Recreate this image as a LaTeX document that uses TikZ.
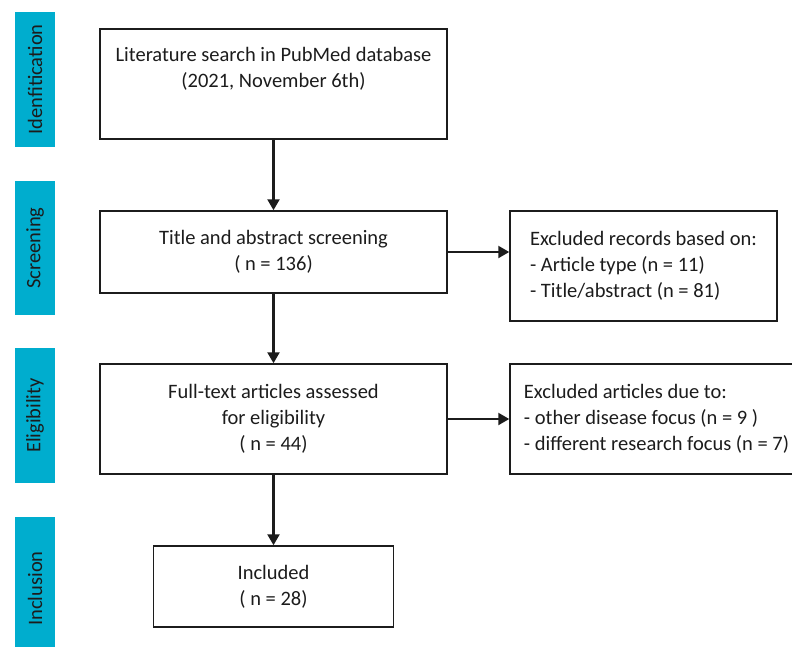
\documentclass[tikz,border=0pt]{standalone}
\usepackage{fontspec}
\setmainfont{Carlito}
\usetikzlibrary{arrows.meta}
\definecolor{tabblue}{RGB}{0,173,206}
\definecolor{ink}{RGB}{28,28,28}
\begin{document}
\begin{tikzpicture}[x=1pt,y=-1pt,
  every node/.style={font=\fontsize{20.5}{26}\selectfont, text=ink},
  box/.style={draw=ink, line width=1.5pt, align=center, inner sep=0pt},
  tab/.style={fill=tabblue, draw=none, inner sep=0pt, minimum height=40pt, rotate=90},
  flow/.style={draw=ink, line width=2.3pt, -{Triangle[length=11pt,width=12pt]}}]
\useasboundingbox (0,0) rectangle (792,646);
\clip (0,0) rectangle (792,646);

% stage tabs on the left
\node[tab, minimum width=135pt] (tid) at (35,79.5) {Idenfitication};
\node[tab, minimum width=134pt] (tsc) at (35,248) {Screening};
\node[tab, minimum width=135pt] (tel) at (35,415.5) {Eligibility};
\node[tab, minimum width=143pt] (tin) at (35,588.5) {Inclusion};

% main flow boxes
\node[box, minimum width=347pt, minimum height=110pt] (search) at (273.5,84)
  {Literature search in PubMed database\\(2021, November 6th)\\\strut};
\node[box, minimum width=347pt, minimum height=82pt] (screen) at (273.5,252)
  {Title and abstract screening\\( n = 136)};
\node[box, minimum width=347pt, minimum height=110pt] (full) at (273.5,419)
  {Full-text articles assessed\\for eligibility\\( n = 44)};
\node[box, minimum width=240pt, minimum height=81pt] (incl) at (273.5,586.5)
  {Included\\( n = 28)};

% exclusion boxes
\node[box, align=left, minimum width=267pt, minimum height=110pt] (exrec) at (643.5,266)
  {Excluded records based on:\\- Article type (n = 11)\\- Title/abstract (n = 81)};
\node[box, align=left, minimum width=293pt, minimum height=110pt] (exart) at (656.5,419)
  {Excluded articles due to:\\- other disease focus (n = 9 )\\- different research focus (n = 7)};

% connectors
\draw[flow] (search) -- (screen);
\draw[flow] (screen) -- (full);
\draw[flow] (full) -- (incl);
\draw[flow] (screen.east) -- (exrec.west |- screen.east);
\draw[flow] (full.east) -- (exart.west);
\end{tikzpicture}
\end{document}
